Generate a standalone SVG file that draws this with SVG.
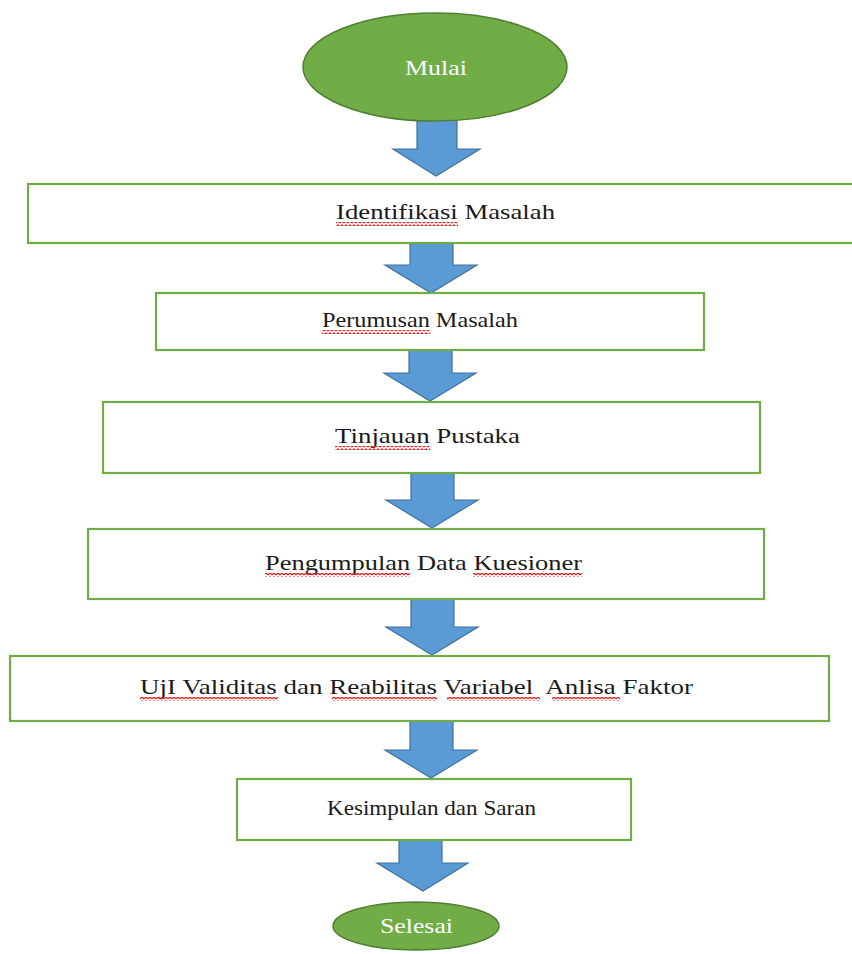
<svg xmlns="http://www.w3.org/2000/svg" width="852" height="954" viewBox="0 0 852 954">
<defs>
<pattern id="wave" x="0" y="0" width="4" height="4" patternUnits="userSpaceOnUse">
<path d="M0,3 L2,1 L4,3" fill="none" stroke="#e02828" stroke-width="1.3"/>
</pattern>
<style>
.box{fill:#ffffff;stroke:#70ad47;stroke-width:2.2}
.term{fill:#70ad47;stroke:#507e32;stroke-width:1.5}
.arrow{fill:#5b9bd5;stroke:#41719c;stroke-width:1.2;stroke-linejoin:miter}
.t{font-family:"Liberation Serif","Times New Roman",serif;font-size:21px;fill:#1a1a1a}
.tw{font-family:"Liberation Serif","Times New Roman",serif;font-size:21px;fill:#ffffff}
.sq{fill:url(#wave)}
</style>
</defs>
<rect width="852" height="954" fill="#ffffff"/>
<g id="connectors">
<polygon class="arrow" points="417,120 457,120 457,149 480,149 436,176 393,149 417,149"/>
<polygon class="arrow" points="410,243 453,243 453,265 477,265 431,293 385,265 410,265"/>
<polygon class="arrow" points="409,350 452,350 452,373 476,373 430,401 384,373 409,373"/>
<polygon class="arrow" points="411,473 454,473 454,500 478,500 432,528 386,500 411,500"/>
<polygon class="arrow" points="411,599 454,599 454,627 478,627 432,655 386,627 411,627"/>
<polygon class="arrow" points="410,721 453,721 453,750 477,750 431,778 385,750 410,750"/>
<polygon class="arrow" points="399,840 442,840 442,863 468,863 423,891 377,863 399,863"/>
</g>
<g id="mulai">
<ellipse class="term" cx="435" cy="67" rx="132" ry="54"/>
<text class="tw" x="405" y="75" textLength="62" lengthAdjust="spacingAndGlyphs">Mulai</text>
</g>
<g id="identifikasi">
<rect class="box" x="28" y="184" width="840" height="59"/>
<text class="t" x="336" y="219" textLength="219" lengthAdjust="spacingAndGlyphs">Identifikasi Masalah</text>
<rect class="sq" x="336" y="222" width="122" height="4"/>
</g>
<g id="perumusan">
<rect class="box" x="156" y="293" width="548" height="57"/>
<text class="t" x="322" y="327" textLength="196" lengthAdjust="spacingAndGlyphs">Perumusan Masalah</text>
<rect class="sq" x="322" y="330" width="108" height="4"/>
</g>
<g id="tinjauan">
<rect class="box" x="103" y="402" width="657" height="71"/>
<text class="t" x="335" y="443" textLength="185" lengthAdjust="spacingAndGlyphs">Tinjauan Pustaka</text>
<rect class="sq" x="335" y="446" width="95" height="4"/>
</g>
<g id="pengumpulan">
<rect class="box" x="88" y="529" width="676" height="70"/>
<text class="t" x="265" y="570" textLength="317" lengthAdjust="spacingAndGlyphs">Pengumpulan Data Kuesioner</text>
<rect class="sq" x="265" y="573" width="145" height="4"/>
<rect class="sq" x="473" y="573" width="109" height="4"/>
</g>
<g id="uji">
<rect class="box" x="10" y="656" width="819" height="65"/>
<text class="t" x="140" y="694" textLength="553" lengthAdjust="spacingAndGlyphs" xml:space="preserve">UjI Validitas dan Reabilitas Variabel  Anlisa Faktor</text>
<rect class="sq" x="140" y="697" width="138" height="4"/>
<rect class="sq" x="332" y="697" width="105" height="4"/>
<rect class="sq" x="447" y="697" width="93" height="4"/>
<rect class="sq" x="552" y="697" width="68" height="4"/>
</g>
<g id="kesimpulan">
<rect class="box" x="237" y="779" width="394" height="61"/>
<text class="t" x="327" y="815" textLength="209" lengthAdjust="spacingAndGlyphs">Kesimpulan dan Saran</text>
</g>
<g id="selesai">
<ellipse class="term" cx="416" cy="926" rx="83" ry="24"/>
<text class="tw" x="380" y="933" textLength="73" lengthAdjust="spacingAndGlyphs">Selesai</text>
</g>
</svg>
